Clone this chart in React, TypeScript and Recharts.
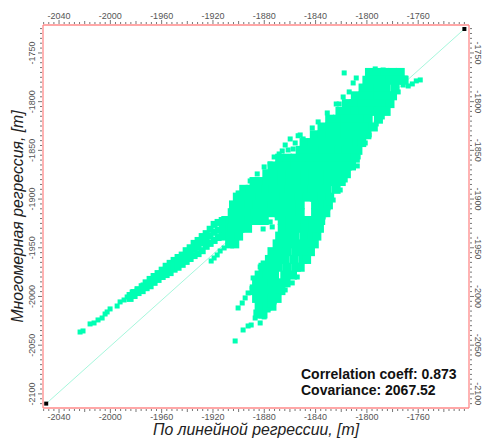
import React from "react";
import { ScatterChart, Scatter, XAxis, YAxis } from "recharts";

const CLOUD = "#00ffb3";
const FRAME = "#ff8a8a";
const X_DOMAIN = [-2052.5, -1720.4];
const Y_DOMAIN = [-2114.5, -1721.3];

// minor and major ticks
const xTicks = Array.from({ length: 83 }, (_, i) => -2052 + i * 4);
const yTicks = Array.from({ length: 78 }, (_, i) => -2110 + i * 5);

// dense part of the cloud, read row by row
const rowY = [
  -1770, -1778, -1786, -1794, -1802, -1810, -1818, -1826, -1834, -1842, -1850, -1858, -1866, -1874, -1882, -1890,
  -1898, -1906, -1914, -1922, -1930, -1938, -1946, -1954, -1962, -1970, -1978, -1986, -1994, -2002, -2010, -2018,
];
const rowX = [
  [-1798, -1792, -1786, -1780, -1774],
  [-1800, -1794, -1788, -1782, -1776, -1771],
  [-1803, -1797, -1791, -1785, -1778],
  [-1809, -1803, -1797, -1791, -1785, -1780],
  [-1816, -1810, -1804, -1798, -1792, -1787, -1782],
  [-1821, -1815, -1809, -1803, -1797, -1791, -1785],
  [-1829, -1823, -1817, -1811, -1805, -1799, -1791],
  [-1835, -1829, -1823, -1817, -1811, -1805, -1800, -1795],
  [-1841, -1835, -1829, -1823, -1817, -1811, -1806, -1800],
  [-1849, -1843, -1837, -1831, -1825, -1819, -1813, -1808, -1804],
  [-1852, -1846, -1840, -1834, -1828, -1822, -1816, -1811, -1807],
  [-1868, -1862, -1856, -1850, -1844, -1838, -1832, -1826, -1820, -1814, -1809],
  [-1874, -1868, -1862, -1856, -1850, -1844, -1838, -1832, -1826, -1820, -1815, -1812],
  [-1878, -1872, -1866, -1860, -1854, -1848, -1842, -1836, -1830, -1824, -1819, -1816],
  [-1888, -1884, -1878, -1872, -1866, -1860, -1854, -1848, -1842, -1836, -1830, -1825, -1820],
  [-1896, -1891, -1885, -1879, -1873, -1867, -1861, -1855, -1849, -1843, -1837, -1831, -1824],
  [-1901, -1895, -1889, -1883, -1877, -1871, -1865, -1859, -1853, -1847, -1841, -1835, -1829],
  [-1904, -1898, -1892, -1886, -1880, -1874, -1868, -1862, -1857, -1852, -1840, -1834, -1830],
  [-1905, -1899, -1893, -1887, -1881, -1875, -1869, -1863, -1857, -1852, -1840, -1835, -1832],
  [-1910, -1904, -1898, -1892, -1886, -1880, -1866, -1860, -1854, -1848, -1842, -1836],
  [-1911, -1905, -1899, -1893, -1866, -1860, -1854, -1848, -1842, -1837],
  [-1912, -1906, -1900, -1868, -1862, -1856, -1849, -1843, -1839],
  [-1907, -1903, -1870, -1864, -1858, -1851, -1845, -1841],
  [-1874, -1868, -1862, -1855, -1849, -1844],
  [-1876, -1870, -1864, -1857, -1850, -1847],
  [-1881, -1875, -1869, -1862, -1855, -1852],
  [-1884, -1878, -1872, -1864, -1858],
  [-1886, -1880, -1874, -1868, -1863],
  [-1888, -1882, -1876, -1870, -1867],
  [-1886, -1880, -1874, -1870],
  [-1884, -1878, -1874],
  [-1885, -1881],
];

// the long narrow arm of the cloud, column by column
const armX = [
  -1984.6, -1981.5, -1978.4, -1975.2, -1972.1, -1969, -1965.9, -1962.8, -1959.6, -1956.5, -1953.4, -1950.3,
  -1947.2, -1944, -1940.9, -1937.8, -1934.7, -1931.6, -1928.4, -1925.3, -1922.2, -1919.1, -1916, -1912.8,
];
const armY = [
  [-1999, -2002],
  [-1996, -1999],
  [-1993, -1996],
  [-1990, -1994],
  [-1986, -1991],
  [-1982.5, -1989],
  [-1979.5, -1985.5],
  [-1976.5, -1982.5],
  [-1973, -1979.5],
  [-1969, -1973, -1977.5],
  [-1966, -1971, -1975.5],
  [-1963, -1967.5, -1972],
  [-1960, -1964.5, -1970],
  [-1957.5, -1961.5, -1967],
  [-1953, -1958.5, -1964],
  [-1950, -1955.5, -1961],
  [-1945.5, -1951, -1958],
  [-1942.5, -1949, -1956],
  [-1938.5, -1945, -1953],
  [-1935.5, -1942, -1948.5],
  [-1931, -1938, -1945.5],
  [-1926, -1934, -1942.5],
  [-1924, -1932, -1939.5],
  [-1922, -1930, -1937.5],
];

// individually visible points on the cloud's edges
const edgeX = [
  -1817.7, -1808.3, -1810.7, -1821.6, -1758.4, -1761.5, -1764.6, -1767.8, -1852, -1849.7, -1853.6, -1859.8, -1863.7, -1866, -1855.9, -1857.5,
  -1861.4, -1872.3, -1875.4, -1868.4, -2023.6, -2021.3, -2015.8, -2012.7, -2009.6, -2006.4, -2004.1, -2002.5, -2000.2, -1994.7, -1992.4, -1989.3,
  -1986.9, -1984.6, -1983, -1979.1, -1974.5, -1921.4, -1919.1, -1916.7, -1914.4, -1911.3, -1908.2, -1905, -1902.7, -1896.5, -1892.6, -1890.2,
  -1900.4, -1897.2, -1894.9, -1892.6, -1889.4, -1888.7, -1883.2, -1880.9, -1887.1, -1883.2, -1880.1, -1880.9, -1875.4, -1873.8, -1869.9, -1799,
  -1793.5, -1787.3, -1780.2, -1774, -1770.1, -1771.7, -1775.6, -1813.8, -1818.5, -1823.9, -1830.9, -1838, -1842.6, -1788, -1792.7, -1798.2,
  -1801.3, -1806.8, -1807.5, -1816.9, -1820.8, -1826.3, -1830.2, -1834.1, -1838, -1839.5, -1841.9, -1844.2, -1848.1, -1852, -1854.3, -1858.2,
  -1863.7, -1869.2, -1872.3, -1877, -1902, -1900.4, -1896.5, -1891, -1885.5, -1880.1,
];
const edgeY = [
  -1770.5, -1775.7, -1780.8, -1802.4, -1777.7, -1778.7, -1781.8, -1783.9, -1834.2, -1838.3, -1835, -1838.3, -1844.5, -1850.6, -1842.4, -1848.6,
  -1849.6, -1856.8, -1864, -1853.7, -2036.5, -2035.4, -2028.2, -2027.2, -2024.1, -2022.1, -2018, -2015.9, -2012.8, -2009.8, -2005.6, -2003.6,
  -2000.5, -1999.5, -1995.4, -1993.3, -1988.2, -1963.6, -1960.5, -1957.4, -1953.3, -1950.2, -1947.1, -1945, -2045.7, -2034.4, -2030.3, -2029.3,
  -2011.8, -2006.7, -2001.5, -1996.4, -1990.2, -1981, -1969.7, -1965.6, -2022.1, -2027.2, -2021, -1930.7, -1923.5, -1928.6, -1919.4, -1768.5,
  -1766.4, -1767.5, -1768.5, -1770.5, -1775.7, -1782.9, -1790, -1790, -1795.2, -1802.4, -1811.6, -1820.8, -1827, -1815.7, -1822.9, -1834.2,
  -1842.4, -1856.8, -1866, -1880.4, -1890.7, -1901, -1909.1, -1918.4, -1926.6, -1936.9, -1945.1, -1952.3, -1960.5, -1970.7, -1980, -1986.1,
  -1993.3, -1999.5, -2005.6, -2013.9, -1897.8, -1893.7, -1888.6, -1881.4, -1874.2, -1867,
];

const diagonalX = [-2050, -1724];
const diagonalY = [-2110, -1725.4];

const coreData = rowY.flatMap((y, i) => rowX[i].map((x) => ({ x, y })));
const armData = armX.flatMap((x, i) => armY[i].map((y) => ({ x, y })));
const edgeData = edgeX.map((x, i) => ({ x, y: edgeY[i] }));
const diagonalData = diagonalX.map((x, i) => ({ x, y: diagonalY[i] }));

const square = (size: number, fill: string) => (p: any) => (
  <rect x={p.cx - size / 2} y={p.cy - size / 2} width={size} height={size} fill={fill} />
);

const labelStyle = { fontFamily: "Liberation Sans", fontSize: 9, fill: "#555" };

const makeXTick = (dir: number) => (p: any) => {
  const v = p.payload.value;
  const major = v % 40 === 0;
  const len = major ? 4 : v % 20 === 0 ? 3 : 2;
  return (
    <g>
      <line x1={p.x} x2={p.x} y1={p.y + dir} y2={p.y + dir + dir * len} stroke="#777" strokeWidth={1} />
      {major && (
        <text x={p.x} y={p.y + dir * 9} textAnchor="middle" dominantBaseline="central" {...labelStyle}>
          {v}
        </text>
      )}
    </g>
  );
};

const makeYTick = (dir: number) => (p: any) => {
  const v = p.payload.value;
  const major = v % 50 === 0;
  const len = major ? 4 : 2;
  const lx = p.x + dir * (dir > 0 ? 9 : 11);
  return (
    <g>
      <line x1={p.x + dir} x2={p.x + dir + dir * len} y1={p.y} y2={p.y} stroke="#777" strokeWidth={1} />
      {major && (
        <text
          x={lx}
          y={p.y}
          textAnchor="middle"
          dominantBaseline="central"
          transform={`rotate(${dir * 90} ${lx} ${p.y})`}
          {...labelStyle}
        >
          {v}
        </text>
      )}
    </g>
  );
};

const titleStyle = { fontFamily: "Liberation Sans", fontStyle: "italic", fontSize: 15.8, fill: "#222" };
const noteStyle: React.CSSProperties = {
  position: "absolute",
  left: 301,
  fontFamily: "Liberation Sans",
  fontWeight: 700,
  fontSize: 14,
  color: "#111",
  whiteSpace: "nowrap",
  lineHeight: "16px",
};

export default function App() {
  const axisLine = { stroke: FRAME, strokeWidth: 1.3 };
  return (
    <div style={{ position: "absolute", left: 0, top: 0, width: 483, height: 439, background: "#fff" }}>
      <ScatterChart width={483} height={439} margin={{ top: 0, right: 0, bottom: 0, left: 0 }}>
        <XAxis
          type="number"
          dataKey="x"
          domain={X_DOMAIN}
          allowDataOverflow
          ticks={xTicks}
          interval={0}
          height={31}
          tickSize={0}
          tickMargin={0}
          tickLine={false}
          axisLine={axisLine}
          tick={makeXTick(1)}
          label={{ value: "По линейной регрессии, [m]", position: "insideBottom", offset: 4, style: titleStyle }}
        />
        <XAxis
          xAxisId="top"
          orientation="top"
          type="number"
          dataKey="x"
          domain={X_DOMAIN}
          allowDataOverflow
          ticks={xTicks}
          interval={0}
          height={25}
          tickSize={0}
          tickMargin={0}
          tickLine={false}
          axisLine={axisLine}
          tick={makeXTick(-1)}
        />
        <YAxis
          type="number"
          dataKey="y"
          domain={Y_DOMAIN}
          allowDataOverflow
          ticks={yTicks}
          interval={0}
          width={43}
          tickSize={0}
          tickMargin={0}
          tickLine={false}
          axisLine={axisLine}
          tick={makeYTick(-1)}
          label={{ value: "Многомерная регрессия, [m]", angle: -90, position: "insideLeft", offset: 17, style: { ...titleStyle, textAnchor: "middle" } }}
        />
        <YAxis
          yAxisId="right"
          orientation="right"
          type="number"
          dataKey="y"
          domain={Y_DOMAIN}
          allowDataOverflow
          ticks={yTicks}
          interval={0}
          width={14}
          tickSize={0}
          tickMargin={0}
          tickLine={false}
          axisLine={axisLine}
          tick={makeYTick(1)}
        />
        <Scatter
          data={diagonalData}
          isAnimationActive={false}
          line={{ stroke: "#a6f7dc", strokeWidth: 1 }}
          shape={square(4, "#000")}
        />
        <Scatter data={coreData} isAnimationActive={false} shape={square(9, CLOUD)} />
        <Scatter data={armData} isAnimationActive={false} shape={square(7, CLOUD)} />
        <Scatter data={edgeData} isAnimationActive={false} shape={square(5, CLOUD)} />
      </ScatterChart>
      <div style={{ ...noteStyle, top: 366 }}>Correlation coeff: 0.873</div>
      <div style={{ ...noteStyle, top: 382 }}>Covariance: 2067.52</div>
    </div>
  );
}
